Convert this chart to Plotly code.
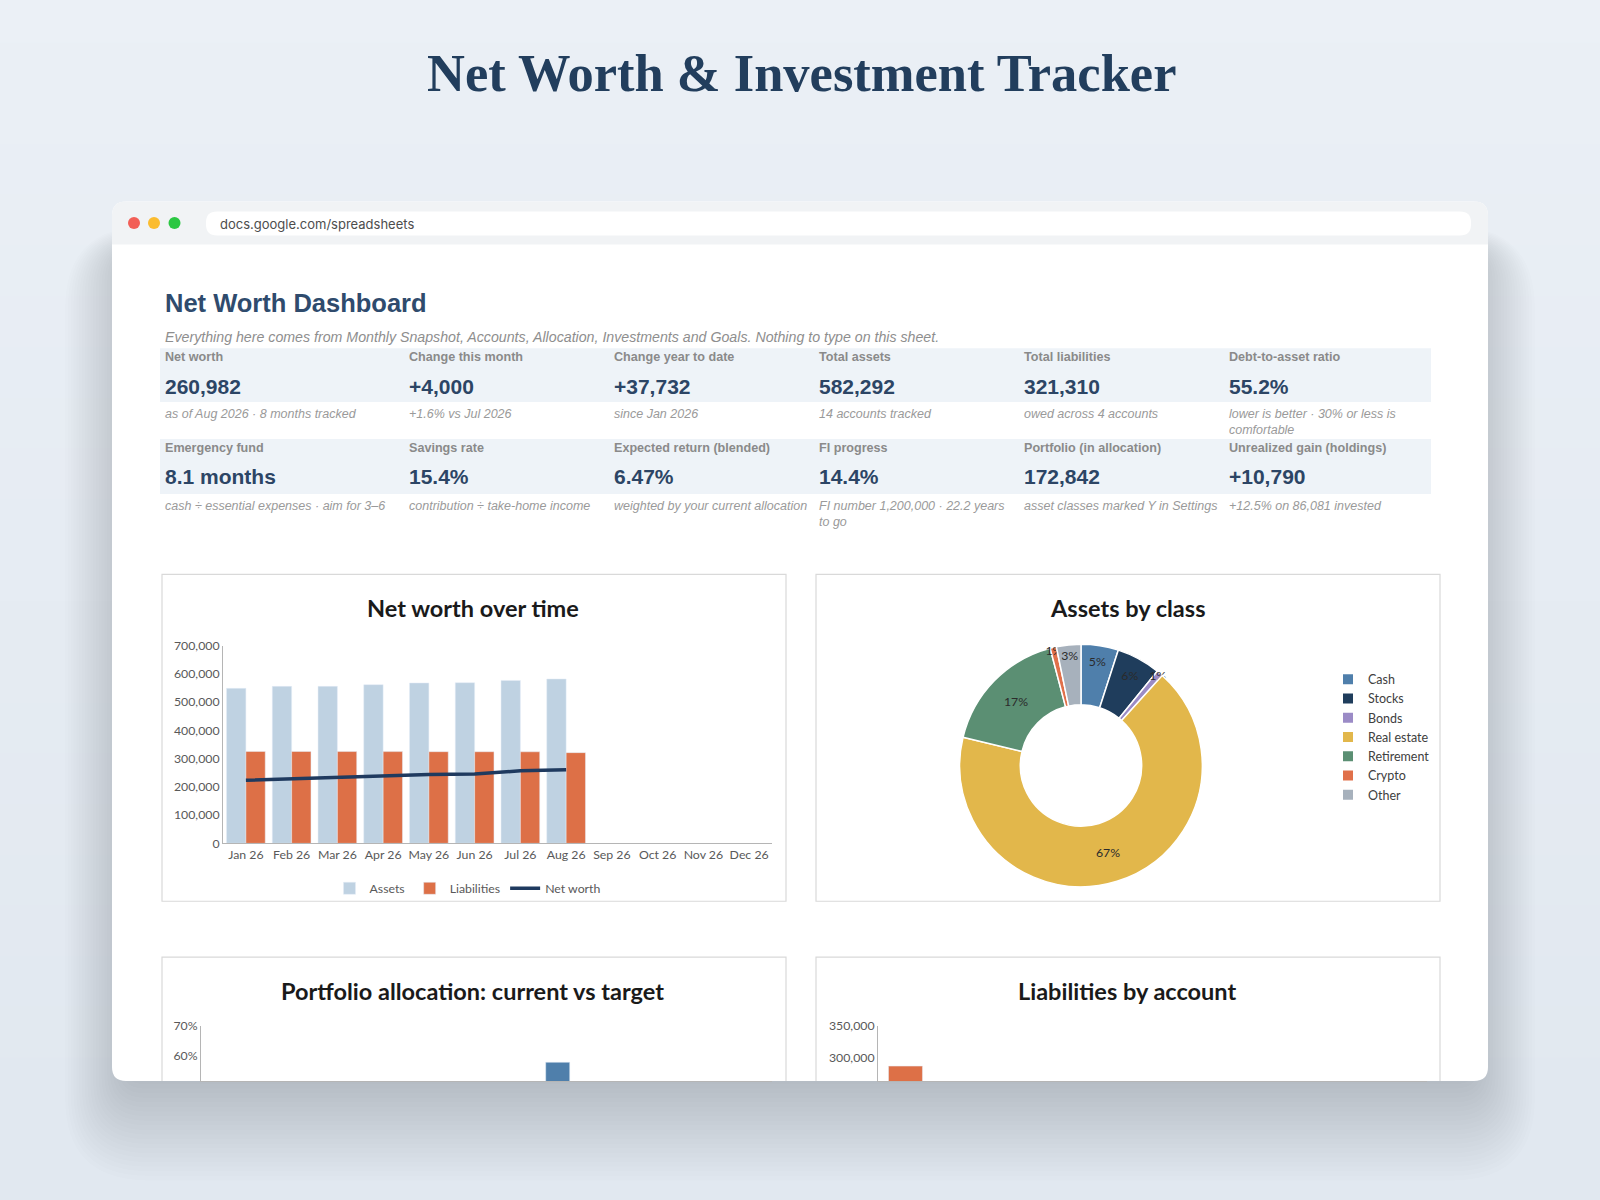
import plotly.graph_objects as go

W, H = 1600, 1200

# ---- data ----
months = ["Jan 26", "Feb 26", "Mar 26", "Apr 26", "May 26", "Jun 26",
          "Jul 26", "Aug 26", "Sep 26", "Oct 26", "Nov 26", "Dec 26"]
tracked_months = months[:8]
assets = [549000, 556000, 556000, 562000, 568000, 569000, 577000, 582292]
liabilities = [325500, 325300, 325100, 324900, 324700, 324500, 324300, 321310]
net_worth = [223250, 228500, 231500, 237000, 243500, 245500, 256982, 260982]

asset_classes = ["Cash", "Stocks", "Bonds", "Real estate", "Retirement", "Crypto", "Other"]
asset_values = [29000, 34000, 5000, 390450, 100000, 4842, 19000]
class_colors = ["#4f7fab", "#1f3d5c", "#9b8bc6", "#e2b74b", "#5b8f73", "#e0704a", "#a7b1bc"]

alloc_classes = ["Cash", "Stocks", "Bonds", "Retirement", "Crypto"]
alloc_current = [0.168, 0.197, 0.029, 0.579, 0.028]
alloc_target = [0.10, 0.45, 0.15, 0.25, 0.05]

liab_accounts = ["Mortgage", "Car loan", "Student loan", "Credit card"]
liab_balances = [285740, 21800, 10900, 2870]

kpi_labels = [["Net worth", "Change this month", "Change year to date",
               "Total assets", "Total liabilities", "Debt-to-asset ratio"],
              ["Emergency fund", "Savings rate", "Expected return (blended)",
               "FI progress", "Portfolio (in allocation)", "Unrealized gain (holdings)"]]
kpi_values = [["260,982", "+4,000", "+37,732", "582,292", "321,310", "55.2%"],
              ["8.1 months", "15.4%", "6.47%", "14.4%", "172,842", "+10,790"]]
kpi_notes = [["as of Aug 2026 · 8 months tracked", "+1.6% vs Jul 2026", "since Jan 2026",
              "14 accounts tracked", "owed across 4 accounts",
              "lower is better · 30% or less is<br>comfortable"],
             ["cash ÷ essential expenses · aim for 3–6", "contribution ÷ take-home income",
              "weighted by your current allocation", "FI number 1,200,000 · 22.2 years<br>to go",
              "asset classes marked Y in Settings", "+12.5% on 86,081 invested"]]
kpi_cols = [163, 407, 612, 817, 1022, 1227]

# small vertical correction measured from the first render
Y_OFF, Y_K = 6.2, 0.9892


def px(x):
    return x / W


def py(y):
    return 1 - ((y - Y_OFF) / Y_K) / H


def rrect_path(x0, y0, x1, y1, r):
    pts = [("M", x0 + r, y0), ("L", x1 - r, y0), ("Q", x1, y0, x1, y0 + r),
           ("L", x1, y1 - r), ("Q", x1, y1, x1 - r, y1), ("L", x0 + r, y1),
           ("Q", x0, y1, x0, y1 - r), ("L", x0, y0 + r), ("Q", x0, y0, x0 + r, y0)]
    out = []
    for p in pts:
        cmd, coords = p[0], p[1:]
        xy = []
        for i in range(0, len(coords), 2):
            xy.append(f"{px(coords[i]):.5f},{py(coords[i + 1]):.5f}")
        out.append(cmd + " " + " ".join(xy))
    return " ".join(out) + " Z"


shapes = []
annotations = []


def rect(x0, y0, x1, y1, fill, line=None, lw=0):
    shapes.append(dict(type="rect", xref="paper", yref="paper",
                       x0=px(x0), x1=px(x1), y0=py(y1), y1=py(y0),
                       fillcolor=fill, line=dict(color=line or fill, width=lw), layer="below"))


def text(x, y, s, size, color, family="Liberation Sans, Arial", xanchor="left",
         yanchor="middle", bold=False, italic=False):
    if bold:
        s = f"<b>{s}</b>"
    if italic:
        s = f"<i>{s}</i>"
    annotations.append(dict(x=px(x), y=py(y), xref="paper", yref="paper", text=s,
                            showarrow=False, xanchor=xanchor, yanchor=yanchor, align="left",
                            font=dict(size=size, color=color, family=family)))


# background gradient
steps = 24
for i in range(steps):
    t = i / (steps - 1)
    c = (int(235 - 10 * t), int(240 - 8 * t), int(246 - 6 * t))
    rect(-5, -10 + (H + 20) * i / steps, W + 5, -10 + (H + 20) * (i + 1) / steps + 1, f"rgb{c}")

# soft card shadow, mostly below the card
for i in range(22):
    shapes.append(dict(type="path", xref="paper", yref="paper",
                       path=rrect_path(124 - i * 2.8, 250 - i * 1.2, 1476 + i * 2.8, 1084 + i * 4.6, 20 + i * 3),
                       fillcolor="rgba(70,85,105,0.012)", line=dict(width=0), layer="below"))

# card + browser bar
shapes.append(dict(type="path", xref="paper", yref="paper", path=rrect_path(112, 200, 1488, 1081, 14),
                   fillcolor="white", line=dict(width=0), layer="below"))
shapes.append(dict(type="path", xref="paper", yref="paper",
                   path=rrect_path(112, 200, 1488, 256, 14),
                   fillcolor="#f1f3f5", line=dict(width=0), layer="below"))
rect(112, 243, 1488, 258, "white")
for cx, col in [(134, "#f25f57"), (154, "#fbbc2f"), (174.5, "#2bc742")]:
    shapes.append(dict(type="circle", xref="paper", yref="paper",
                       x0=px(cx - 6), x1=px(cx + 6), y0=py(221.5 + 6), y1=py(221.5 - 6),
                       fillcolor=col, line=dict(width=0), layer="below"))
shapes.append(dict(type="path", xref="paper", yref="paper", path=rrect_path(206, 210, 1471, 234, 11),
                   fillcolor="white", line=dict(width=0), layer="below"))
text(218, 222.5, "docs.google.com/spreadsheets", 13, "#4d4d4d", family="Inter, Noto Sans")

# page title
text(801, 71, "Net Worth &amp; Investment Tracker", 52.5, "#223e5d",
     family="Liberation Serif, DejaVu Serif", xanchor="center", bold=True)

# sheet header
text(163, 302, "Net Worth Dashboard", 25.5, "#2f4b6d", bold=True)
text(163, 336, "Everything here comes from Monthly Snapshot, Accounts, Allocation, Investments and Goals. "
     "Nothing to type on this sheet.", 14.2, "#8e8e8e", italic=True)

# KPI bands
for r, (top, bot) in enumerate([(347, 401), (438, 493)]):
    rect(160, top, 1431, bot, "#eef3f8")
    for c in range(6):
        x = kpi_cols[c]
        text(x, top + 9, kpi_labels[r][c], 12.6, "#8a8a8a", bold=True)
        text(x, top + 38, kpi_values[r][c], 21, "#2c4565", bold=True)
        text(x, bot + 3, kpi_notes[r][c], 12.5, "#9a9a9a", yanchor="top", italic=True)

# chart panels
for x0, x1 in [(162, 786), (816, 1440)]:
    rect(x0, 573.5, x1, 901, "white", line="#d9d9d9", lw=1.2)
    shapes.append(dict(type="path", xref="paper", yref="paper",
                       path=f"M {px(x0):.5f},{py(1081):.5f} L {px(x0):.5f},{py(957):.5f} "
                            f"L {px(x1):.5f},{py(957):.5f} L {px(x1):.5f},{py(1081):.5f}",
                       line=dict(color="#d9d9d9", width=1.2), layer="below"))

ttl_font = "Lato, Noto Sans"
ttl_size = 23.5
text(473, 607, "Net worth over time", ttl_size, "#1a1a1a", family=ttl_font, xanchor="center", bold=True)
text(1127, 607, "Assets by class", ttl_size, "#1a1a1a", family=ttl_font, xanchor="center", bold=True)
text(472, 991, "Portfolio allocation: current vs target", ttl_size, "#1a1a1a", family=ttl_font,
     xanchor="center", bold=True)
text(1127, 991, "Liabilities by account", ttl_size, "#1a1a1a", family=ttl_font, xanchor="center", bold=True)

fig = go.Figure()

# net worth over time
bw = 0.423
fig.add_trace(go.Bar(x=tracked_months, y=assets, name="Assets", marker_color="#bfd2e2",
                     width=bw, offset=-bw, legend="legend"))
fig.add_trace(go.Bar(x=tracked_months, y=liabilities, name="Liabilities", marker_color="#dd7047",
                     width=bw, offset=0, legend="legend"))
fig.add_trace(go.Scatter(x=tracked_months, y=net_worth, name="Net worth", mode="lines",
                         line=dict(color="#1f3a5f", width=3.5), legend="legend"))

# assets by class
fig.add_trace(go.Pie(labels=asset_classes, values=asset_values, hole=0.5, sort=False,
                     direction="clockwise", rotation=0,
                     marker=dict(colors=class_colors, line=dict(color="white", width=1.5)),
                     texttemplate="%{percent:.0%}", textposition="inside",
                     insidetextorientation="horizontal",
                     textfont=dict(family=ttl_font, size=12.5, color="#2b2b2b"),
                     domain=dict(x=[px(959.5), px(1202.5)], y=[py(886.5), py(643.5)]),
                     legend="legend2"))

# portfolio allocation (cropped by the card edge)
ab = 0.228
fig.add_trace(go.Bar(x=alloc_classes, y=alloc_current, name="Current", marker_color="#4f7fab",
                     width=ab, offset=-ab, xaxis="x2", yaxis="y2", showlegend=False))
fig.add_trace(go.Bar(x=alloc_classes, y=alloc_target, name="Target", marker_color="#c9d4df",
                     width=ab, offset=0, xaxis="x2", yaxis="y2", showlegend=False))

# liabilities by account (cropped by the card edge)
lb = 0.618
fig.add_trace(go.Bar(x=liab_accounts, y=liab_balances, name="Balance", marker_color="#dd7047",
                     width=lb, offset=-lb / 2, xaxis="x3", yaxis="y3", showlegend=False))

axis_font = dict(family=ttl_font, size=12.3, color="#595959")
common = dict(showline=True, linecolor="#b5b5b5", linewidth=1, showgrid=False, zeroline=False,
              ticks="", tickfont=axis_font, fixedrange=True)

fig.update_layout(
    width=W, height=H, autosize=False,
    margin=dict(l=0, r=0, t=0, b=0),
    paper_bgcolor="#e6ecf3", plot_bgcolor="rgba(0,0,0,0)",
    shapes=shapes, annotations=annotations,
    barmode="group",
    uniformtext=dict(minsize=11, mode="show"),
    xaxis=dict(domain=[px(223), px(772)], anchor="y", type="category",
               categoryorder="array", categoryarray=months, range=[-0.5, 11.5], **common),
    yaxis=dict(domain=[py(843), py(645)], anchor="x", range=[0, 700000], dtick=100000,
               tickformat=",", **common),
    xaxis2=dict(domain=[px(201), px(772)], anchor="y2", type="category",
                categoryorder="array", categoryarray=alloc_classes, range=[-0.5, 4.92],
                showticklabels=False, **common),
    yaxis2=dict(domain=[py(1081), py(1026)], anchor="x2", range=[0.5167, 0.70], dtick=0.1,
                tickformat=".0%", **common),
    xaxis3=dict(domain=[px(878), px(1427)], anchor="y3", type="category",
                categoryorder="array", categoryarray=liab_accounts, range=[-0.5, 9.49],
                showticklabels=False, **common),
    yaxis3=dict(domain=[py(1081), py(1026)], anchor="x3", range=[261900, 350000], dtick=50000,
                tickformat=",", **common),
    legend=dict(orientation="h", x=px(468), xanchor="center", y=py(888), yanchor="middle",
                font=axis_font, bgcolor="rgba(0,0,0,0)", traceorder="normal"),
    legend2=dict(orientation="v", x=px(1328), xanchor="left", y=py(664), yanchor="top",
                 font=dict(family=ttl_font, size=12.5, color="#404040"), bgcolor="rgba(0,0,0,0)",
                 itemsizing="constant"),
    showlegend=True,
)

fig.write_html("out.html", config={"displayModeBar": False, "staticPlot": True},
               post_script="document.body.style.margin='0';document.body.style.overflow='hidden';")
